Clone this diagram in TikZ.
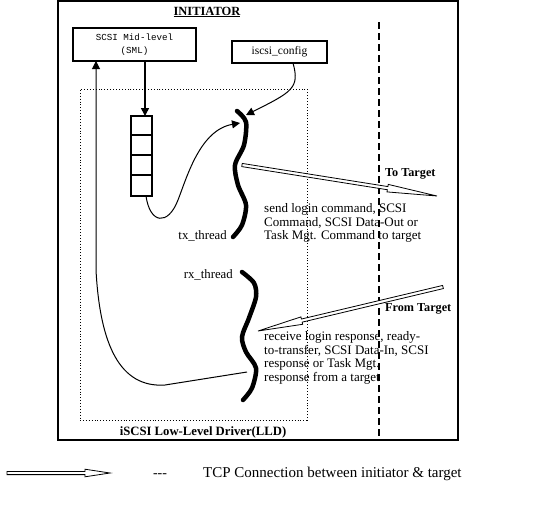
\documentclass[tikz,border=0pt]{standalone}
\usepackage{fontspec}
\setmainfont{Liberation Serif}
\newfontfamily\monofont{Liberation Mono}
\usetikzlibrary{arrows.meta,calc}
\newcommand\tcparrow[3]{%
  \coordinate (hb) at ($(#2)!#3!(#1)$);
  \draw[tcp] ($(#1)!1.6pt!90:(#2)$) -- ($(hb)!1.6pt!90:(#2)$) -- ($(hb)!3.8pt!90:(#2)$) -- (#2)
    -- ($(hb)!3.8pt!-90:(#2)$) -- ($(hb)!1.6pt!-90:(#2)$) -- ($(#1)!1.6pt!-90:(#2)$) -- cycle;}
\begin{document}
\begin{tikzpicture}[x=1pt,y=-1pt,
  box/.style={draw, line width=1.5pt, inner sep=0pt},
  thread/.style={line width=4.5pt, line cap=round},
  conn/.style={line width=1pt, -{Triangle[length=8pt,width=8pt]}},
  tcp/.style={line width=0.8pt, fill=white, line join=miter},
  desc/.style={font=\fontsize{13}{13.5}\selectfont, align=left, inner sep=0pt, anchor=north west},
  lbl/.style={font=\fontsize{12.2}{14}\selectfont\bfseries, inner sep=0pt},
  plain/.style={font=\fontsize{12.8}{14}\selectfont, inner sep=0pt},
]
\useasboundingbox (0,0) rectangle (552,507);
% outer frame
\node[draw, line width=2pt, minimum width=400pt, minimum height=439pt, inner sep=0pt] (init) at (258,220.5) {};
\node[lbl, font=\fontsize{12.5}{14}\selectfont\bfseries] (title) at (207,12) {\underline{INITIATOR}};
% dotted LLD box
\node[draw, dotted, line width=0.9pt, minimum width=227pt, minimum height=331pt, inner sep=0pt] (lld) at (193.5,254.5) {};
\node[lbl, font=\fontsize{12.7}{14}\selectfont\bfseries] (lldl) at (203,432) {iSCSI Low-Level Driver(LLD)};
% dashed boundary
\coordinate (dtop) at (379,22);
\coordinate (dbot) at (379,440);
\draw[line width=2pt, dash pattern=on 7pt off 4pt] (dtop) -- (dbot);
% boxes
\node[box, minimum width=123pt, minimum height=33pt, font=\monofont\fontsize{9.2}{13}\selectfont, align=center] (sml) at (134.5,44.5) {SCSI Mid-level\\(SML)};
\node[box, minimum width=95pt, minimum height=22pt, font=\fontsize{11.5}{13}\selectfont] (cfg) at (279.5,52) {iscsi\_config};
% queue
\node[draw, line width=2pt, minimum width=21pt, minimum height=80pt, inner sep=0pt] (q) at (141.5,156) {};
\foreach \k in {1,2,3} \draw[line width=2pt] ($(q.north west)+(0,20*\k)$) -- ($(q.north east)+(0,20*\k)$);
% threads
\draw[thread] plot[smooth] coordinates {(237,111) (246,122) (244,145) (235,165) (238,185) (246,205) (242,225) (233,237)};
\draw[thread] plot[smooth] coordinates {(242,272) (254,283) (256,297) (249,318) (242,337) (246,352) (256,368) (252,388) (243,400)};
\node[plain, anchor=east] (txl) at (227,236) {tx\_thread};
\node[plain, anchor=east] (rxl) at (233,275) {rx\_thread};
% connectors
\coordinate (qin) at (145,116);
\coordinate (smlq) at (145,61);
\draw[conn, line width=1.6pt] (smlq) -- (qin);
\coordinate (cfgout) at (293,63);
\coordinate (txin1) at (246,115);
\draw[conn] (cfgout) .. controls (300,88) and (292,92) .. (txin1);
\coordinate (qout) at (146,196);
\coordinate (qmid) at (178,200);
\coordinate (txin2) at (240,123);
\draw[conn] (qout) .. controls (150,224) and (168,226) .. (qmid) .. controls (187,177) and (200,130) .. (txin2);
\coordinate (rxout) at (247,372);
\coordinate (smlin) at (96,61);
\draw[conn] (rxout) -- (165,385) .. controls (120,388) and (100,345) .. (96,270) -- (smlin);
% TCP connections
\coordinate (tta) at (242,165);
\coordinate (ttb) at (437,196);
\tcparrow{tta}{ttb}{50pt}
\coordinate (fta) at (443,287);
\coordinate (ftb) at (258,331);
\tcparrow{fta}{ftb}{45pt}
\node[lbl, anchor=west] (tot) at (385,174) {To Target};
\node[lbl, anchor=west] (frt) at (385,309) {From Target};
\node[desc] (sendt) at (264,203.5) {send login command, SCSI\\Command, SCSI Data-Out or\\Task Mgt. Command to target};
\node[desc] (recvt) at (264,331.5) {receive login response, ready-\\to-transfer, SCSI Data-In, SCSI\\response or Task Mgt.\\response from a target};
% legend
\coordinate (lga) at (7,473);
\coordinate (lgb) at (110,473);
\tcparrow{lga}{lgb}{25pt}
\node[plain, font=\fontsize{14}{16}\selectfont, anchor=base] (dashes) at (160,477) {{-}{-}{-}};
\node[plain, font=\fontsize{15}{16}\selectfont, anchor=base west] (legt) at (203,477) {TCP Connection between initiator \& target};
\end{tikzpicture}
\end{document}
